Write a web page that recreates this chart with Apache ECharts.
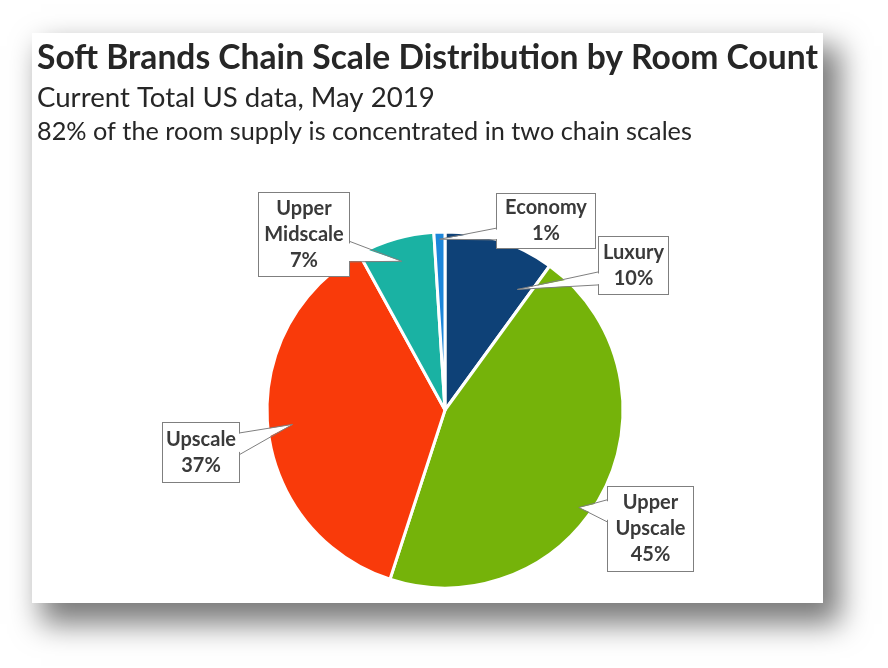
<!DOCTYPE html>
<html><head><meta charset="utf-8">
<script src="https://cdn.jsdelivr.net/npm/echarts@6/dist/echarts.min.js"></script>
<style>
html,body{margin:0;padding:0;background:#fff;width:888px;height:668px;overflow:hidden}
#card{position:absolute;left:32px;top:33px;width:791px;height:570px;background:#fff;box-shadow:13px 17px 28px 4px rgba(0,0,0,0.52)}
#chart{width:791px;height:570px}
</style></head><body>
<div id="card"><div id="chart"></div></div>
<script>
// ---- data ----
const titleText = 'Soft Brands Chain Scale Distribution by Room Count';
const subtitleText = 'Current Total US data, May 2019';
const noteText = '82% of the room supply is concentrated in two chain scales';
const categories = ['Luxury', 'Upper Upscale', 'Upscale', 'Upper Midscale', 'Economy'];
const shares = [10, 45, 37, 7, 1];
const sliceColors = ['#0E4177', '#75B30A', '#F93A0A', '#1AB2A3', '#1C86DA'];

// ---- layout / style ----
const FONT = 'Lato';
const CX = 413, CY = 377, R = 178;
const LBL_FS = 20, LBL_LH = 26;
const boxes = [
  {cx: 601.5, top: 204, w: 69, h: 57, tipA: 0.86, tipR: 0.79, b0: 0.61, b1: 0.84},
  {cx: 618.5, top: 454, w: 85, h: 84, tipA: 0.556, tipR: 0.93, b0: 0.15, b1: 0.42},
  {cx: 169,   top: 390, w: 76, h: 59, tipA: 0.5, tipR: 0.86, b0: 0.17, b1: 0.54},
  {cx: 272,   top: 160, w: 90, h: 83, tipA: 0.5, tipR: 0.87, b0: 0.58, b1: 0.83},
  {cx: 514,   top: 161, w: 98, h: 54, tipA: 0.5, tipR: 0.96, b0: 0.63, b1: 0.85}
];

const cv = document.createElement('canvas').getContext('2d');
function fitSize(text, weight, target) {
  cv.font = weight + ' 100px ' + FONT;
  return 100 * target / cv.measureText(text).width;
}
const s1 = fitSize(titleText, 'bold', 781);
const s2 = fitSize(subtitleText, 'normal', 398);
const s3 = fitSize(noteText, 'normal', 655);

function labelText(i) {
  return categories[i].replace(' ', '\n') + '\n' + shares[i] + '%';
}

const total = shares.reduce((a, b) => a + b, 0);
const pieData = categories.map((name, i) => {
  const lines = labelText(i).split('\n').length;
  const pv = (boxes[i].h - lines * LBL_LH) / 2;
  return {
    name: name,
    value: shares[i],
    itemStyle: {color: sliceColors[i]},
    label: {width: boxes[i].w, padding: [pv, 0, pv, 0]}
  };
});

// callout pointers, computed from data + pie geometry
const graphics = [];
let acc = 0;
shares.forEach((v, i) => {
  const b = boxes[i];
  const frac = (acc + b.tipA * v) / total;
  acc += v;
  const th = 2 * Math.PI * frac;
  const r = b.tipR * R;
  const tx = CX + r * Math.sin(th), ty = CY - r * Math.cos(th);
  const left = b.cx - b.w / 2, right = b.cx + b.w / 2;
  const edgeX = tx < left ? left : right;
  const inward = tx < left ? 1 : -1;
  const y0 = b.top + b.b0 * b.h, y1 = b.top + b.b1 * b.h;
  graphics.push({
    type: 'polygon', z: 100, silent: true,
    shape: {points: [[edgeX + inward * 3, y0 + 1], [tx, ty], [edgeX + inward * 3, y1 - 1]]},
    style: {fill: '#fff', stroke: null}
  });
  graphics.push({
    type: 'polyline', z: 101, silent: true,
    shape: {points: [[edgeX, y0], [tx, ty], [edgeX, y1]]},
    style: {stroke: '#7f7f7f', lineWidth: 1, fill: null}
  });
});

const chart = echarts.init(document.getElementById('chart'), null, {renderer: 'canvas'});
chart.setOption({
  animation: false,
  backgroundColor: '#fff',
  title: [
    {text: titleText, left: 5, top: 25 - s1 / 2, padding: 0,
     textStyle: {fontFamily: FONT, fontWeight: 'bold', fontSize: s1, lineHeight: s1, color: '#262626'}},
    {text: subtitleText, left: 5, top: 65 - s2 / 2, padding: 0,
     textStyle: {fontFamily: FONT, fontWeight: 'normal', fontSize: s2, lineHeight: s2, color: '#262626'}},
    {text: noteText, left: 5, top: 98.5 - s3 / 2, padding: 0,
     textStyle: {fontFamily: FONT, fontWeight: 'normal', fontSize: s3, lineHeight: s3, color: '#262626'}}
  ],
  series: [{
    type: 'pie',
    center: [CX, CY],
    radius: R,
    startAngle: 90,
    clockwise: true,
    avoidLabelOverlap: false,
    emphasis: {disabled: true},
    itemStyle: {borderColor: '#fff', borderWidth: 3},
    label: {
      show: true,
      formatter: p => labelText(p.dataIndex),
      fontFamily: FONT, fontWeight: 'bold', fontSize: LBL_FS, lineHeight: LBL_LH,
      color: '#3a3a3a', align: 'center',
      backgroundColor: '#fff', borderColor: '#7f7f7f', borderWidth: 1
    },
    labelLine: {show: false},
    labelLayout: p => ({x: boxes[p.dataIndex].cx, y: boxes[p.dataIndex].top, align: 'center', verticalAlign: 'top'}),
    data: pieData
  }],
  graphic: graphics
});
</script>
</body></html>
